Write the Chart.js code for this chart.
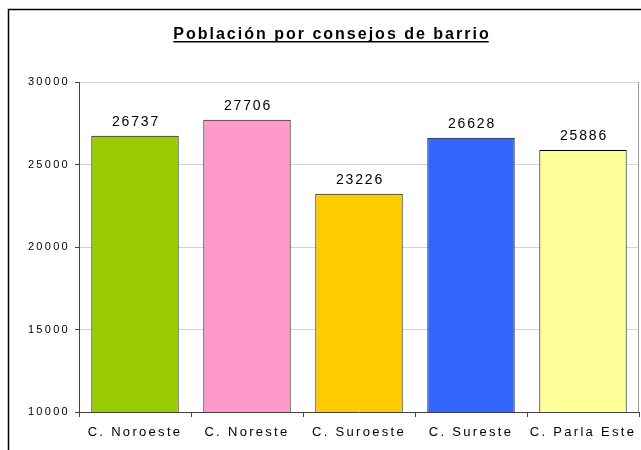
<!DOCTYPE html>
<html>
<head>
    <title>Población por consejos de barrio</title>
    <script src="https://cdn.jsdelivr.net/npm/chart.js"></script>
    <style>
        body { margin: 0; background: #fff; }
    </style>
</head>
<body>
    <canvas id="mainChart" width="641" height="450"></canvas>
    <script>
        const titulo = 'Población por consejos de barrio';
        const consejos = ['C. Noroeste', 'C. Noreste', 'C. Suroeste', 'C. Sureste', 'C. Parla Este'];
        const poblacion = [26737, 27706, 23226, 26628, 25886];
        const colores = ['#99CC00', '#FF99CC', '#FFCC00', '#3366FF', '#FFFF99'];

        // marco, título subrayado y etiquetas de valor
        const decoracion = {
            id: 'decoracion',
            beforeDraw(chart) {
                const ctx = chart.ctx;
                ctx.letterSpacing = '2.3px';
                ctx.save();
                ctx.strokeStyle = '#000';
                ctx.lineWidth = 1.5;
                ctx.strokeRect(8.5, 9.5, 700, 500);
                ctx.restore();
            },
            afterDatasetsDraw(chart) {
                const ctx = chart.ctx;
                const area = chart.chartArea;
                ctx.save();
                // borde derecho gris del área de trazado
                ctx.strokeStyle = '#999';
                ctx.lineWidth = 1;
                ctx.beginPath();
                ctx.moveTo(area.right - 0.5, area.top);
                ctx.lineTo(area.right - 0.5, area.bottom);
                ctx.stroke();

                // título
                ctx.letterSpacing = '2px';
                ctx.font = 'bold 16px "Liberation Sans", Arial, sans-serif';
                ctx.fillStyle = '#000';
                ctx.textAlign = 'center';
                ctx.textBaseline = 'alphabetic';
                ctx.fillText(titulo, 332, 39);
                const w = ctx.measureText(titulo).width;
                ctx.fillRect(332 - w / 2, 41, w - 2, 1.5);

                // valores sobre las barras
                ctx.letterSpacing = '1.8px';
                ctx.font = '14px "Liberation Sans", Arial, sans-serif';
                chart.getDatasetMeta(0).data.forEach((bar, i) => {
                    ctx.fillText(String(poblacion[i]), bar.x + 1, bar.y - 10);
                });
                ctx.restore();
                ctx.letterSpacing = '2.3px';
            }
        };

        new Chart(document.getElementById('mainChart'), {
            type: 'bar',
            data: {
                labels: consejos,
                datasets: [{
                    data: poblacion,
                    backgroundColor: colores,
                    borderColor: '#000',
                    borderWidth: 1,
                    borderSkipped: false,
                    categoryPercentage: 1,
                    barPercentage: 0.78
                }]
            },
            options: {
                responsive: false,
                animation: false,
                layout: {
                    padding: { left: 0, right: 2, top: 82, bottom: 0 }
                },
                plugins: {
                    legend: { display: false },
                    title: { display: false },
                    tooltip: { enabled: false }
                },
                scales: {
                    x: {
                        grid: {
                            offset: true,
                            drawOnChartArea: false,
                            tickLength: 5,
                            tickColor: '#444'
                        },
                        border: { color: '#444', width: 1 },
                        ticks: {
                            color: '#000',
                            padding: 8,
                            font: { size: 13, family: '"Liberation Sans", Arial, sans-serif' }
                        },
                        afterFit: axis => { axis.height = 38; }
                    },
                    y: {
                        min: 10000,
                        max: 30000,
                        grid: {
                            color: '#d4d4d4',
                            tickColor: '#444',
                            tickLength: 4
                        },
                        border: { color: '#444', width: 1 },
                        ticks: {
                            stepSize: 5000,
                            color: '#000',
                            padding: 5,
                            callback: v => String(v),
                            font: { size: 11, family: '"Liberation Sans", Arial, sans-serif' }
                        },
                        afterFit: axis => { axis.width = 79; }
                    }
                }
            },
            plugins: [decoracion]
        });
    </script>
</body>
</html>
